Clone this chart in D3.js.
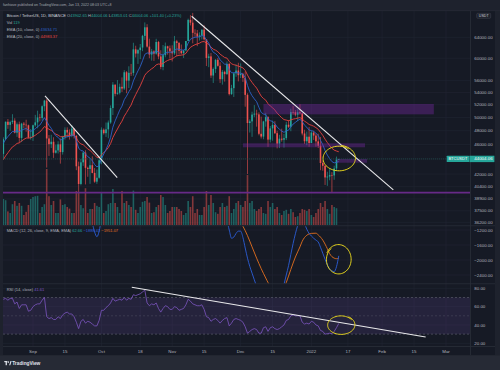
<!DOCTYPE html>
<html><head><meta charset="utf-8">
<script src="https://cdn.jsdelivr.net/npm/d3@7/dist/d3.min.js"></script>
<style>html,body{margin:0;padding:0;background:#1e222d;}svg{display:block;font-family:"Liberation Sans",Arial,sans-serif;}</style>
</head><body><svg id="chart" width="500" height="370"></svg>
<script>
// ---------------- DATA ----------------
const dates = [
"2021-08-19","2021-08-20","2021-08-21","2021-08-22","2021-08-23","2021-08-24","2021-08-25","2021-08-26","2021-08-27","2021-08-28","2021-08-29","2021-08-30","2021-08-31",
"2021-09-01","2021-09-02","2021-09-03","2021-09-04","2021-09-05","2021-09-06","2021-09-07","2021-09-08","2021-09-09","2021-09-10","2021-09-11","2021-09-12","2021-09-13","2021-09-14","2021-09-15","2021-09-16","2021-09-17","2021-09-18","2021-09-19","2021-09-20","2021-09-21","2021-09-22","2021-09-23","2021-09-24","2021-09-25","2021-09-26","2021-09-27","2021-09-28","2021-09-29","2021-09-30",
"2021-10-01","2021-10-02","2021-10-03","2021-10-04","2021-10-05","2021-10-06","2021-10-07","2021-10-08","2021-10-09","2021-10-10","2021-10-11","2021-10-12","2021-10-13","2021-10-14","2021-10-15","2021-10-16","2021-10-17","2021-10-18","2021-10-19","2021-10-20","2021-10-21","2021-10-22","2021-10-23","2021-10-24","2021-10-25","2021-10-26","2021-10-27","2021-10-28","2021-10-29","2021-10-30","2021-10-31",
"2021-11-01","2021-11-02","2021-11-03","2021-11-04","2021-11-05","2021-11-06","2021-11-07","2021-11-08","2021-11-09","2021-11-10","2021-11-11","2021-11-12","2021-11-13","2021-11-14","2021-11-15","2021-11-16","2021-11-17","2021-11-18","2021-11-19","2021-11-20","2021-11-21","2021-11-22","2021-11-23","2021-11-24","2021-11-25","2021-11-26","2021-11-27","2021-11-28","2021-11-29","2021-11-30",
"2021-12-01","2021-12-02","2021-12-03","2021-12-04","2021-12-05","2021-12-06","2021-12-07","2021-12-08","2021-12-09","2021-12-10","2021-12-11","2021-12-12","2021-12-13","2021-12-14","2021-12-15","2021-12-16","2021-12-17","2021-12-18","2021-12-19","2021-12-20","2021-12-21","2021-12-22","2021-12-23","2021-12-24","2021-12-25","2021-12-26","2021-12-27","2021-12-28","2021-12-29","2021-12-30","2021-12-31",
"2022-01-01","2022-01-02","2022-01-03","2022-01-04","2022-01-05","2022-01-06","2022-01-07","2022-01-08","2022-01-09","2022-01-10","2022-01-11","2022-01-12","2022-01-13"];

const open = [
44690,46760,49340,48867,49285,49506,47706,48960,46943,49058,48897,48806,46991,
47110,48810,49246,49999,49915,51756,52663,46863,46048,46395,44850,45173,46025,44940,47111,48122,47737,47300,48314,47250,43016,40735,43544,44866,42810,42670,43160,42147,41026,41525,
43824,48141,47634,48200,49224,51471,55315,53785,53951,54949,54659,57471,56005,57367,57347,61672,60875,61528,62009,64280,66001,62193,60688,61286,60853,63078,60328,58413,60575,62253,61859,
61299,60911,63219,62896,61395,60937,61470,63273,67525,66947,64882,64774,64122,64380,65519,63606,60058,60344,56891,58052,59707,58622,56247,57541,57138,58960,53726,54721,57274,57776,
56950,57184,56480,53601,49152,49396,50441,50588,50471,47545,47140,49389,50053,46702,48343,48864,47632,46131,46834,46681,46914,48889,48588,50838,50821,50429,50809,50640,47588,46464,47120,
46216,47722,47286,46446,45832,43451,43082,41566,41679,41864,41822,42729,43902.65];

const high = [
47033,49382,49757,49500,50500,49875,49226,49366,49180,49300,49650,48906,48250,
48900,50400,51050,50558,51900,52780,52920,47360,47400,47040,45989,46460,46880,47250,48500,48500,48190,48843,48370,47350,43640,44000,44978,45200,42967,43950,44350,42787,42590,44132,
48495,48336,49228,49536,51886,55750,55332,56100,55489,56561,57839,57680,58532,58960,62933,62360,61720,62695,64486,67000,66639,63732,61747,61500,63710,63293,61496,62499,62980,62359,62405,
62437,64270,63500,63086,62595,61560,63286,67789,68524,69000,65600,65450,64990,65550,66401,63617,60840,60976,58320,59845,60029,59266,57875,57735,59398,59150,55280,57445,58865,59176,
59053,57375,57600,53859,49699,50891,51936,51200,50797,50125,49485,50724,50189,48700,49500,49436,47995,47392,48300,47537,49328,49576,51375,51810,51156,51280,52088,50704,48139,47879,48548,
47954,47990,47570,47557,47070,43816,43145,42300,42786,42248,43100,44322,44004.06];

const low = [
43927,46622,48280,48000,49000,47600,47100,46250,46350,48350,47850,46870,46700,
46512,48600,48360,49400,49500,50970,42843,44412,45513,44140,44730,44743,43370,44595,46700,47020,46700,47050,46850,42500,39600,40565,43069,40675,41646,40750,42098,40888,40753,41410,
43283,47430,47088,46891,49022,50382,53357,53617,53661,54080,54415,53879,54738,56818,56850,60150,58963,59844,61322,63482,62000,60000,59562,59510,60650,59817,58000,57820,60174,60673,59945,
59405,60624,60382,60677,60721,60050,61322,63273,66382,62822,64100,62278,63360,63576,63400,58574,58373,56474,55600,57353,58486,55610,55317,55837,57000,53500,53610,53256,56666,55875,
56458,55777,51680,42000,47727,47100,50039,48600,47320,46852,46751,48600,45672,46290,46547,47511,45456,45500,46406,45558,46630,48421,47920,50420,50171,49412,50449,47313,46096,45900,45678,
46208,46654,45696,45500,42500,42430,40610,40501,41200,39650,41269,42450,43853.01];

const close = [
46760,49340,48867,49285,49506,47706,48960,46943,49058,48897,48806,46991,47110,
48810,49246,49999,49915,51756,52663,46863,46048,46395,44850,45173,46025,44940,47111,48122,47737,47300,48314,47250,43016,40735,43544,44866,42810,42670,43160,42147,41026,41525,43824,
48141,47634,48200,49224,51471,55315,53785,53951,54949,54659,57471,56005,57367,57347,61672,60875,61528,62009,64280,66001,62193,60688,61286,60853,63078,60328,58413,60575,62253,61859,61299,
60911,63219,62896,61395,60937,61470,63273,67525,66947,64882,64774,64122,64380,65519,63606,60058,60344,56891,58052,59707,58622,56247,57541,57138,58960,53726,54721,57274,57776,56950,
57184,56480,53601,49152,49396,50441,50588,50471,47545,47140,49389,50053,46702,48343,48864,47632,46131,46834,46681,46914,48889,48588,50838,50821,50429,50809,50640,47588,46464,47120,46216,
47722,47286,46446,45832,43451,43082,41566,41679,41864,41822,42729,43902,44004.06];

// volume in thousands of BTC
const volumeK = [
65,62,34,30,52,60,48,55,48,25,33,50,65,
70,72,73,30,45,52,140,72,50,60,30,30,64,50,52,45,41,30,30,85,80,50,42,92,30,40,40,55,48,45,
80,30,35,52,55,90,55,45,30,85,55,60,50,45,86,38,30,45,58,60,70,56,30,32,45,50,75,70,50,30,35,
45,45,45,40,35,25,30,60,45,72,30,40,25,25,45,85,50,75,55,32,28,45,55,45,48,72,30,40,55,60,
50,45,60,125,55,60,40,35,40,45,30,28,60,45,55,40,45,30,25,35,38,28,40,32,20,22,30,40,38,35,40,
25,20,30,40,55,45,60,40,28,50,45,42,0.119];

const ema10 = [
46170,46746,47132,47523,47883,47851,48053,47851,48070,48220,48327,48084,47907,
48071,48285,48597,48837,49368,49967,49403,48793,48357,47719,47256,47032,46652,46735,46987,47123,47155,47366,47345,46558,45499,45144,45093,44678,44313,44103,43747,43252,42938,43099,
44016,44674,45315,46026,47016,48525,49481,50294,51140,51780,52815,53395,54117,54704,55971,56863,57711,58492,59544,60718,60986,60932,60996,60970,61353,61167,60666,60649,60941,61108,61143,
61101,61486,61742,61679,61544,61531,61848,62880,63619,63849,64017,64036,64099,64357,64220,63463,62896,61804,61122,60865,60457,59692,59301,58908,58917,57973,57382,57362,57437,57348,
57318,57166,56518,55179,54128,53458,52936,52488,51589,50780,50527,50441,49761,49503,49387,49068,48534,48225,47944,47757,47963,48077,48579,48987,49249,49533,49734,49344,48820,48511,48094,
48026,47891,47628,47301,46601,45961,45162,44529,44044,43640,43474,43552,43634.71];

const ema20 = [
43900,44418,44842,45265,45669,45863,46158,46233,46502,46730,46928,46934,46951,
47128,47330,47584,47806,48182,48609,48443,48215,48042,47738,47492,47352,47122,47121,47216,47266,47269,47368,47357,46944,46353,46086,45970,45669,45383,45171,44883,44516,44231,44192,
44568,44860,45178,45563,46125,47000,47646,48246,48884,49434,50199,50752,51382,51950,52876,53637,54388,55114,55987,56940,57440,57749,58086,58349,58799,58945,58894,59054,59359,59597,59759,
59869,60188,60446,60536,60574,60659,60908,61538,62053,62322,62555,62704,62864,63117,63164,62868,62628,62082,61698,61508,61233,60758,60452,60138,60026,59426,58979,58817,58722,58553,
58423,58238,57797,56974,56253,55700,55185,54736,54052,53394,53013,52731,52157,51794,51515,51146,50669,50305,49960,49669,49595,49499,49626,49740,49806,49901,49971,49744,49432,49212,48927,
48812,48667,48456,48206,47753,47308,46761,46277,45857,45473,45212,45087,44983.37];

const rsi = [
68,69,67,69,69,63,65,58,62,62,62,55,56,
60,62,63,63,67,70,49,47,48,46,46,49,47,51,53,54,52,52,49,43,36,44,46,42,44,43,41,39,39,45,
56,56,59,61,64,69,66,67,68,67,70,67,69,68,73,72,73,74,76,78,64,61,63,62,64,58,54,58,61,60,57,
57,60,59,56,57,58,62,68,66,63,62,61,61,62,57,49,48,44,46,47,45,42,45,47,48,39,42,46,47,46,
45,43,38,31,33,35,36,35,31,31,37,38,33,37,38,36,35,36,38,40,45,46,50,51,50,50,50,43,41,42,41,
44,43,40,39,34,33,30,30.5,31,30.5,33,37,41.61];

// MACD (sparse readings; parts outside the pane are clipped)
const macdDates = ["2021-08-19","2021-09-07","2021-09-14","2021-09-20","2021-09-24","2021-09-26","2021-09-27","2021-09-28","2021-09-29","2021-09-30","2021-10-01","2021-10-04","2021-10-12","2021-10-21","2021-11-01","2021-11-10","2021-11-18","2021-11-22","2021-11-24","2021-11-25","2021-11-26","2021-11-27","2021-11-28","2021-11-29","2021-11-30","2021-12-01","2021-12-02","2021-12-03","2021-12-04","2021-12-05","2021-12-06","2021-12-07","2021-12-08","2021-12-12","2021-12-17","2021-12-19","2021-12-20","2021-12-21","2021-12-22","2021-12-23","2021-12-24","2021-12-25","2021-12-26","2021-12-27","2021-12-28","2021-12-29","2021-12-30","2021-12-31","2022-01-01","2022-01-02","2022-01-03","2022-01-04","2022-01-05","2022-01-06","2022-01-07","2022-01-08","2022-01-09","2022-01-10","2022-01-11","2022-01-12","2022-01-13"];
const macdValues = [900,700,-100,-450,-800,-900,-1030,-1250,-1380,-1230,-900,-300,1800,3300,2000,1900,300,-500,-800,-950,-1200,-1420,-1390,-1290,-1230,-1230,-1400,-1680,-1950,-2170,-2350,-2530,-2700,-3100,-3250,-2900,-2650,-2400,-2150,-1850,-1560,-1300,-1080,-930,-900,-1030,-1180,-1290,-1360,-1420,-1470,-1520,-1660,-1820,-1980,-2130,-2240,-2290,-2310,-2180,-1888.41];
const signalDates = ["2021-08-19","2021-09-10","2021-09-25","2021-10-02","2021-10-10","2021-10-25","2021-11-10","2021-11-20","2021-11-25","2021-11-28","2021-12-01","2021-12-02","2021-12-04","2021-12-06","2021-12-08","2021-12-10","2021-12-12","2021-12-13","2021-12-15","2021-12-18","2021-12-20","2021-12-21","2021-12-23","2021-12-25","2021-12-27","2021-12-28","2021-12-30","2022-01-01","2022-01-03","2022-01-04","2022-01-06","2022-01-08","2022-01-09","2022-01-10","2022-01-11","2022-01-12","2022-01-13"];
const signalValues = [800,500,-400,-700,300,2700,1800,800,-450,-780,-1000,-1100,-1350,-1650,-1950,-2230,-2480,-2600,-2750,-2850,-2750,-2600,-2250,-1920,-1650,-1500,-1340,-1290,-1285,-1330,-1470,-1700,-1830,-1910,-1950,-1965,-1951.07];

// ticks
const priceTicks = [64000,60000,56000,54000,52000,50000,48000,46000,44000,42000,40400,38900,37500,36200];
const macdTicks = [-1200,-1600,-2000,-2400];
const rsiTicks = [80,60,40,20];
const timeTickDates = ["2021-09-01","2021-09-15","2021-10-01","2021-10-18","2021-11-01","2021-11-15","2021-12-01","2021-12-15","2022-01-01","2022-01-17","2022-02-01","2022-02-15","2022-03-01"];
const timeTickLabels = ["Sep","15","Oct","18","Nov","15","Dec","15","2022","17","Feb","15","Mar"];

// drawings (in data coordinates)
const trendLines = [
  [["2021-09-06T06:00:00Z",53430],["2021-10-07T22:00:00Z",41530]],
  [["2021-11-09T13:00:00Z",68280],["2022-02-05T22:00:00Z",40000]]
];
const rsiTrend = [["2021-10-14T07:00:00Z",81.1],["2022-02-20T02:00:00Z",26.9]];
const zones = [
  [["2021-12-11T00:00:00Z",52120],["2022-02-23T16:00:00Z",50480]],
  [["2021-12-02T00:00:00Z",46170],["2022-01-24T12:00:00Z",45610]],
  [["2022-01-12T05:00:00Z",44000],["2022-01-25T10:00:00Z",43490]]
];
const supportPrice = 39660;
const circleMain = ["2022-01-13T02:00:00Z",44090];
const circleMacd = ["2022-01-12T22:00:00Z",-1987];
const circleRsi = ["2022-01-14T00:00:00Z",40];

// ---------------- LAYOUT ----------------
const L=3, R=470, RA=495;
const mainTop=11, mainBot=225.5, macdTop=226, macdBot=283.5, rsiTop=284, rsiBot=346.5;
const C = {bg:"#161a25", outer:"#1e222d", grid:"#1f2431", sep:"#2a2e39", text:"#b2b5be",
  up:"#26a69a", down:"#ef5350", e10:"#2e63c8", e20:"#e8433f", macd:"#2c5fd8", sig:"#e5711f",
  rsi:"#7e57c2", zone:"rgba(120,40,165,0.38)", support:"#672a88", yellow:"#e3d21e"};

const parse = s => new Date(s.length===10 ? s+"T00:00:00Z" : s);
const x = d3.scaleUtc().domain([parse("2021-09-01"), parse("2022-03-01")]).range([33,446]);
const y = d3.scaleLog().domain([36200,64000]).range([222.3,37.3]);
const vy = d3.scaleLinear().domain([0,100]).range([225,185]);
const my = d3.scaleLinear().domain([-2400,-1200]).range([275,230]);
const ry = d3.scaleLinear().domain([20,80]).range([343.3,288.3]);

const data = dates.map((d,i)=>({date:parse(d),o:open[i],h:high[i],l:low[i],c:close[i],v:volumeK[i],e10:ema10[i],e20:ema20[i],rsi:rsi[i]}));

const svg = d3.select("#chart");
svg.append("rect").attr("width",500).attr("height",370).attr("fill",C.outer);
svg.append("rect").attr("x",L).attr("y",mainTop).attr("width",RA-L).attr("height",355-mainTop).attr("fill",C.bg);
svg.append("rect").attr("x",0).attr("y",355.5).attr("width",500).attr("height",14.5).attr("fill","#262a35");

const defs = svg.append("defs");
function clip(id,y0,y1){defs.append("clipPath").attr("id",id).append("rect").attr("x",L).attr("y",y0).attr("width",R-L).attr("height",y1-y0);}
clip("cMain",mainTop,mainBot); clip("cMacd",macdTop,macdBot); clip("cRsi",rsiTop,rsiBot);

// vertical grid
const gridG = svg.append("g");
gridG.selectAll("line.v").data(timeTickDates).join("line")
  .attr("x1",d=>x(parse(d))).attr("x2",d=>x(parse(d))).attr("y1",mainTop).attr("y2",rsiBot)
  .attr("stroke",C.grid).attr("stroke-width",0.7);
// horizontal grids
gridG.selectAll("line.p").data(priceTicks).join("line").attr("class","p")
  .attr("x1",L).attr("x2",R).attr("y1",d=>y(d)).attr("y2",d=>y(d)).attr("stroke",C.grid).attr("stroke-width",0.7);
gridG.selectAll("line.m").data(macdTicks).join("line").attr("class","m")
  .attr("x1",L).attr("x2",R).attr("y1",d=>my(d)).attr("y2",d=>my(d)).attr("stroke",C.grid).attr("stroke-width",0.7);
gridG.selectAll("line.r").data(rsiTicks).join("line").attr("class","r")
  .attr("x1",L).attr("x2",R).attr("y1",d=>ry(d)).attr("y2",d=>ry(d)).attr("stroke",C.grid).attr("stroke-width",0.7);

// ---------------- MAIN PANE ----------------
const main = svg.append("g").attr("clip-path","url(#cMain)");
const bw = 1.6;
main.append("g").selectAll("rect").data(data).join("rect")
  .attr("x",d=>x(d.date)-bw/2).attr("width",bw)
  .attr("y",d=>vy(d.v)).attr("height",d=>vy(0)-vy(d.v))
  .attr("fill",d=>d.c>=d.o?C.up:C.down).attr("opacity",0.5);

const cg = main.append("g");
cg.selectAll("line").data(data).join("line")
  .attr("x1",d=>x(d.date)).attr("x2",d=>x(d.date)).attr("y1",d=>y(d.h)).attr("y2",d=>y(d.l))
  .attr("stroke",d=>d.c>=d.o?C.up:C.down).attr("stroke-width",0.6);
cg.selectAll("rect").data(data).join("rect")
  .attr("x",d=>x(d.date)-bw/2).attr("width",bw)
  .attr("y",d=>y(Math.max(d.o,d.c))).attr("height",d=>Math.max(0.6,Math.abs(y(d.o)-y(d.c))))
  .attr("fill",d=>d.c>=d.o?C.up:C.down);

main.append("path").datum(data).attr("fill","none").attr("stroke",C.e20).attr("stroke-width",0.9)
  .attr("d",d3.line().x(d=>x(d.date)).y(d=>y(d.e20)));
main.append("path").datum(data).attr("fill","none").attr("stroke",C.e10).attr("stroke-width",0.9)
  .attr("d",d3.line().x(d=>x(d.date)).y(d=>y(d.e10)));

// zones
main.selectAll("rect.zone").data(zones).join("rect").attr("class","zone")
  .attr("x",d=>x(parse(d[0][0]))).attr("width",d=>x(parse(d[1][0]))-x(parse(d[0][0])))
  .attr("y",d=>y(d[0][1])).attr("height",d=>y(d[1][1])-y(d[0][1])).attr("fill",C.zone);
// support line
main.append("line").attr("x1",L).attr("x2",R).attr("y1",y(supportPrice)).attr("y2",y(supportPrice))
  .attr("stroke",C.support).attr("stroke-width",1.6);
// last price line
const last = data[data.length-1];
main.append("line").attr("x1",L).attr("x2",R).attr("y1",y(last.c)).attr("y2",y(last.c))
  .attr("stroke","#1f5c58").attr("stroke-width",0.6).attr("stroke-dasharray","1,1");
// trendlines
main.selectAll("line.tl").data(trendLines).join("line").attr("class","tl")
  .attr("x1",d=>x(parse(d[0][0]))).attr("y1",d=>y(d[0][1]))
  .attr("x2",d=>x(parse(d[1][0]))).attr("y2",d=>y(d[1][1]))
  .attr("stroke","#e8e8ea").attr("stroke-width",1.1);

function scribble(cx,cy,rx,ry,start,extra){
  const n=64, pts=[];
  for(let i=0;i<=n;i++){const t=start-i/n*(2*Math.PI+extra);const k=1+0.08*i/n;pts.push([cx+rx*k*Math.cos(t),cy+ry*k*Math.sin(t)]);}
  return d3.line().curve(d3.curveCatmullRom)(pts);
}
main.append("path").attr("d",scribble(x(parse(circleMain[0])),y(circleMain[1]),15.5,12,-0.9,0.55))
  .attr("fill","none").attr("stroke",C.yellow).attr("stroke-width",1);

// ---------------- MACD PANE ----------------
const macdG = svg.append("g").attr("clip-path","url(#cMacd)");
const mLine = d3.line().curve(d3.curveMonotoneX).x(d=>x(parse(d[0]))).y(d=>my(d[1]));
macdG.append("path").datum(signalDates.map((d,i)=>[d,signalValues[i]])).attr("fill","none")
  .attr("stroke",C.sig).attr("stroke-width",0.9).attr("d",mLine);
macdG.append("path").datum(macdDates.map((d,i)=>[d,macdValues[i]])).attr("fill","none")
  .attr("stroke",C.macd).attr("stroke-width",0.9).attr("d",mLine);
macdG.append("path").attr("d",scribble(x(parse(circleMacd[0])),my(circleMacd[1]),12,14,-2.2,0.5))
  .attr("fill","none").attr("stroke",C.yellow).attr("stroke-width",1);

// ---------------- RSI PANE ----------------
const rsiG = svg.append("g").attr("clip-path","url(#cRsi)");
rsiG.append("rect").attr("x",L).attr("width",R-L).attr("y",ry(70)).attr("height",ry(30)-ry(70))
  .attr("fill","rgba(126,87,194,0.15)");
rsiG.selectAll("line.b").data([70,50,30]).join("line").attr("class","b")
  .attr("x1",L).attr("x2",R).attr("y1",d=>ry(d)).attr("y2",d=>ry(d))
  .attr("stroke","#6c6f7c").attr("stroke-width",0.6).attr("stroke-dasharray","2,2").attr("opacity",d=>d===50?0.5:0.9);
rsiG.append("path").datum(data).attr("fill","none").attr("stroke",C.rsi).attr("stroke-width",0.8)
  .attr("d",d3.line().x(d=>x(d.date)).y(d=>ry(d.rsi)));
rsiG.append("line").attr("x1",x(parse(rsiTrend[0][0]))).attr("y1",ry(rsiTrend[0][1]))
  .attr("x2",x(parse(rsiTrend[1][0]))).attr("y2",ry(rsiTrend[1][1])).attr("stroke","#e8e8ea").attr("stroke-width",1.1);
rsiG.append("path").attr("d",scribble(x(parse(circleRsi[0])),ry(circleRsi[1]),13,9,-0.6,0.4))
  .attr("fill","none").attr("stroke",C.yellow).attr("stroke-width",1);

// ---------------- SEPARATORS ----------------
const sepG = svg.append("g").attr("stroke",C.sep).attr("stroke-width",0.8);
[mainBot+0.25, macdBot+0.25, rsiBot].forEach(v=>sepG.append("line").attr("x1",L).attr("x2",RA).attr("y1",v).attr("y2",v));
sepG.append("line").attr("x1",R+0.5).attr("x2",R+0.5).attr("y1",mainTop).attr("y2",355);
svg.append("line").attr("x1",0).attr("x2",500).attr("y1",10.7).attr("y2",10.7).attr("stroke","#2a2e39").attr("stroke-width",0.6);

// ---------------- AXIS LABELS ----------------
const fs = 4.4, f2 = d3.format(".2f");
const axG = svg.append("g").attr("font-size",fs).attr("fill",C.text);
axG.selectAll("text.p").data(priceTicks).join("text").attr("class","p")
  .attr("x",474.3).attr("y",d=>y(d)).attr("dy","0.35em").text(d=>f2(d));
axG.selectAll("text.m").data(macdTicks).join("text").attr("class","m")
  .attr("x",474.3).attr("y",d=>my(d)).attr("dy","0.35em").text(d=>f2(d).replace("-","\u2212"));
axG.selectAll("text.r").data(rsiTicks).join("text").attr("class","r")
  .attr("x",474.3).attr("y",d=>ry(d)).attr("dy","0.35em").text(d=>f2(d));
axG.selectAll("text.t").data(timeTickDates).join("text").attr("class","t")
  .attr("x",d=>x(parse(d))).attr("y",353.2).attr("text-anchor","middle").text((d,i)=>timeTickLabels[i]);

// last price labels
const ly = y(last.c);
svg.append("rect").attr("x",446.7).attr("y",ly-3.2).attr("width",22.4).attr("height",6.4).attr("fill",C.up).attr("rx",0.6);
svg.append("text").attr("x",457.9).attr("y",ly).attr("dy","0.35em").attr("text-anchor","middle").attr("font-size",4).attr("fill","#fff").text("BTCUSDT");
svg.append("rect").attr("x",469.4).attr("y",ly-3.2).attr("width",25).attr("height",6.4).attr("fill",C.up);
svg.append("text").attr("x",474.3).attr("y",ly).attr("dy","0.35em").attr("font-size",fs).attr("fill","#fff").text(f2(last.c));

// USDT badge
svg.append("rect").attr("x",476.7).attr("y",13.3).attr("width",14).attr("height",5).attr("rx",1)
  .attr("fill","#1e222d").attr("stroke","#50535e").attr("stroke-width",0.4);
svg.append("text").attr("x",483.7).attr("y",15.8).attr("dy","0.35em").attr("text-anchor","middle").attr("font-size",3.6).attr("fill","#d1d4dc").text("USDT");

// ---------------- HEADER / LEGENDS ----------------
svg.append("text").attr("x",3).attr("y",6.4).attr("font-size",3.6).attr("fill","#a3a6af")
  .text("fanhiove published on TradingView.com, Jan 13, 2022 08:03 UTC+8");
const lg = svg.append("g").attr("font-size",4.0);
function legend(yy, parts){const t=lg.append("text").attr("x",6.7).attr("y",yy);parts.forEach(p=>t.append("tspan").attr("fill",p[1]).text(p[0]));}
legend(17.2,[["Bitcoin / TetherUS, 1D, BINANCE ","#d1d4dc"],["O","#b2b5be"],[f2(last.o),C.up],[" H","#b2b5be"],[f2(last.h),C.up],[" L","#b2b5be"],[f2(last.l),C.up],[" C","#b2b5be"],[f2(last.c),C.up],[" +101.40 (+0.23%)",C.up]]);
legend(24.2,[["Vol ","#b2b5be"],["119",C.up]]);
legend(31.2,[["EMA (10, close, 0) ","#b2b5be"],[f2(ema10[ema10.length-1]),C.e10]]);
legend(37.6,[["EMA (20, close, 0) ","#b2b5be"],[f2(ema20[ema20.length-1]),C.e20]]);
legend(232.2,[["MACD (12, 26, close, 9, EMA, EMA) ","#b2b5be"],["62.66 ",C.up],["\u22121888.41 ",C.macd],["\u22121951.07",C.sig]]);
legend(290.6,[["RSI (14, close) ","#b2b5be"],[f2(rsi[rsi.length-1]),C.rsi]]);

// footer logo
const fg = svg.append("g");
fg.append("rect").attr("x",4.3).attr("y",361).attr("width",3).attr("height",1.2).attr("fill","#e0e3eb");
fg.append("rect").attr("x",5.6).attr("y",361).attr("width",1.3).attr("height",4.2).attr("fill","#e0e3eb");
fg.append("circle").attr("cx",8.3).attr("cy",362.1).attr("r",0.8).attr("fill","#e0e3eb");
fg.append("path").attr("d","M9.2,365.2 L10.5,361 L11.6,361 L10.3,365.2 Z").attr("fill","#e0e3eb");
fg.append("text").attr("x",12.2).attr("y",365).attr("font-size",4.8).attr("font-weight","bold").attr("fill","#e0e3eb").text("TradingView");
</script></body></html>
